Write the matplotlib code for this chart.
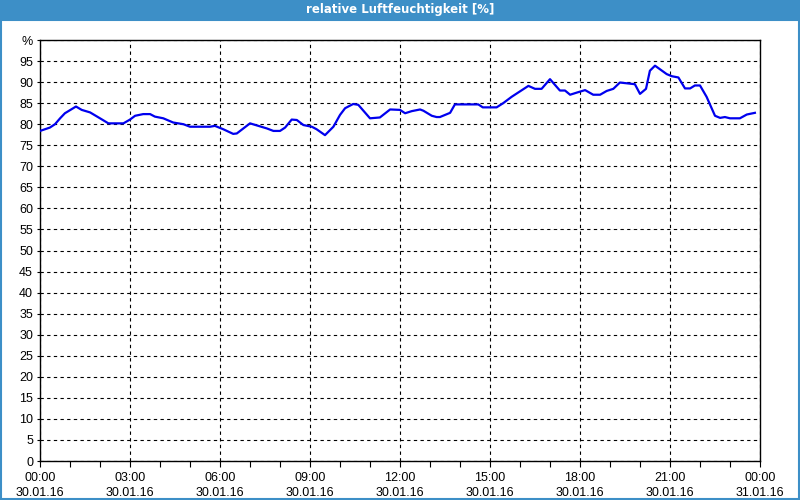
import matplotlib
matplotlib.use('Agg')
import matplotlib.pyplot as plt
from matplotlib.patches import Rectangle
from matplotlib.ticker import MultipleLocator

# --- Daten: relative Luftfeuchtigkeit am 30.01.16 (Stunden ab 00:00) ---
hours = [0.0, 0.33, 0.5, 0.67, 0.83, 1.2, 1.39, 1.67, 2.0, 2.28, 2.78, 3.0,
         3.17, 3.44, 3.67, 3.83, 4.11, 4.44, 4.78, 5.0, 5.67, 5.83, 6.11, 6.44,
         6.56, 7.0, 7.28, 7.56, 7.78, 8.0, 8.17, 8.39, 8.56, 8.78, 9.06, 9.22,
         9.5, 9.78, 10.0, 10.17, 10.44, 10.61, 11.0, 11.33, 11.67, 12.0, 12.17,
         12.39, 12.67, 12.78, 13.06, 13.22, 13.33, 13.67, 13.83, 14.61, 14.76,
         15.22, 15.44, 15.72, 16.0, 16.28, 16.5, 16.72, 17.0, 17.17, 17.33, 17.5,
         17.67, 17.89, 18.17, 18.44, 18.67, 18.89, 19.11, 19.33, 19.83, 20.0,
         20.2, 20.33, 20.5, 20.89, 21.06, 21.28, 21.5, 21.67, 21.83, 22.0, 22.22,
         22.5, 22.67, 22.83, 23.0, 23.33, 23.56, 23.83]
humidity = [78.4, 79.2, 80.0, 81.4, 82.6, 84.2, 83.4, 82.8, 81.4, 80.2, 80.2, 81.1,
            82.0, 82.4, 82.4, 81.8, 81.4, 80.4, 80.0, 79.4, 79.4, 79.6, 78.8, 77.7,
            77.8, 80.2, 79.6, 79.0, 78.4, 78.4, 79.2, 81.1, 81.0, 79.8, 79.4, 78.8,
            77.4, 79.4, 82.2, 83.8, 84.8, 84.6, 81.4, 81.6, 83.5, 83.4, 82.6,
            83.1, 83.5, 83.2, 82.0, 81.7, 81.7, 82.7, 84.7, 84.7, 84.0,
            84.0, 85.0, 86.5, 87.8, 89.1, 88.4, 88.4, 90.7, 89.3, 88.0, 88.0,
            87.0, 87.5, 88.1, 87.0, 87.0, 87.9, 88.4, 89.9, 89.5, 87.2,
            88.4, 92.7, 93.9, 91.9, 91.4, 91.1, 88.5, 88.5, 89.2, 89.2, 86.5,
            82.0, 81.5, 81.7, 81.4, 81.4, 82.3, 82.7]

tick_hours = [0, 3, 6, 9, 12, 15, 18, 21, 24]
tick_labels = ['00:00\n30.01.16', '03:00\n30.01.16', '06:00\n30.01.16',
               '09:00\n30.01.16', '12:00\n30.01.16', '15:00\n30.01.16',
               '18:00\n30.01.16', '21:00\n30.01.16', '00:00\n31.01.16']
y_ticks = list(range(0, 101, 5))
y_labels = [str(v) for v in y_ticks[:-1]] + ['%']

title = 'relative Luftfeuchtigkeit [%]'

plt.rcParams['font.family'] = ['Liberation Sans', 'DejaVu Sans']

fig = plt.figure(figsize=(8, 5), dpi=100)
fig.patch.set_facecolor('white')

# Titelleiste und Rahmen
frame_blue = '#3d8fc7'
fig.patches.append(Rectangle((0, 480 / 500), 1, 20 / 500, transform=fig.transFigure,
                             facecolor=frame_blue, edgecolor='none', zorder=0))
fig.patches.append(Rectangle((1 / 800, 1 / 500), 798 / 800, 479 / 500, transform=fig.transFigure,
                             facecolor='none', edgecolor=frame_blue, linewidth=1.5, zorder=0))
fig.text(0.5, 490 / 500, title, color='white', fontsize=8.5, fontweight='bold',
         ha='center', va='center', family=['DejaVu Sans'])

ax = fig.add_axes([40 / 800, 39 / 500, 720 / 800, 421 / 500])
ax.plot(hours, humidity, color='#0000ee', linewidth=1.6, zorder=3)

ax.set_xlim(0, 24)
ax.set_ylim(0, 100)
ax.set_xticks(tick_hours)
ax.set_xticklabels(tick_labels, fontsize=9, linespacing=1.3)
ax.xaxis.set_minor_locator(MultipleLocator(1))
ax.set_yticks(y_ticks)
ax.set_yticklabels(y_labels, fontsize=9)

ax.tick_params(axis='x', which='both', direction='out', length=4, width=0.8, pad=4)
ax.tick_params(axis='y', which='both', direction='out', length=2, width=0.8, pad=3)

ax.grid(True, which='major', color='black', linestyle=(0, (3, 3)), linewidth=0.8)
for s in ax.spines.values():
    s.set_linewidth(1.0)
    s.set_color('black')

fig.savefig('out.png', dpi=100)
